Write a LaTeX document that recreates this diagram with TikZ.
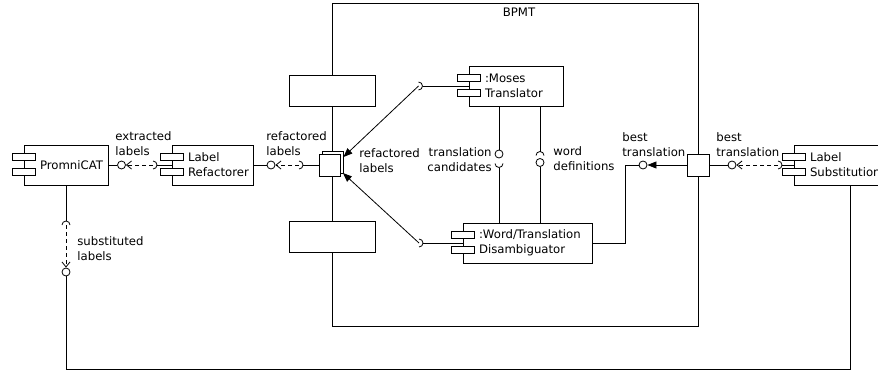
\documentclass[tikz,border=0pt]{standalone}
\usepackage{fontspec}
\setmainfont{DejaVu Sans}
\usetikzlibrary{positioning}
\usetikzlibrary{calc}
\usetikzlibrary{arrows.meta}
\usetikzlibrary{shadows}

\tikzset{
    comp/.style={draw, fill=white, minimum height=40, inner xsep=16pt, text width=#1, align=left},
    ball/.style={draw, fill=white, circle, minimum size=8, inner sep=0pt},
    port/.style={draw, fill=white, minimum width=21, minimum height=22, inner sep=0pt},
    blank/.style={draw, fill=white, minimum width=86, minimum height=31, inner sep=0pt},
    lbl/.style={inner sep=0pt, align=left, anchor=west},
    dep/.style={dash pattern=on 4pt off 3pt, -{Straight Barb[length=5pt,width=8pt]}},
    dlg/.style={-{Triangle[length=9pt,width=7pt]}},
}

%component icons on the left side of a box
\newcommand{\compicons}[1]{\draw[fill=white] ([xshift=-11pt,yshift=11.5pt]#1.west) rectangle ++(23pt,-7pt) ([xshift=-11pt,yshift=-3.5pt]#1.west) rectangle ++(23pt,-7pt);}

\begin{document}
\begin{tikzpicture}[x=1pt, y=-1pt, line width=0.8pt, font=\fontsize{11.7}{15}\selectfont]
    \useasboundingbox (0,0) rectangle (878,372);
    %BPMT
    \node[draw, minimum width=366, minimum height=323] (bpmt) at (515,164.5) {};
    \node[anchor=north, inner sep=0pt] (bpmtname) at ([xshift=4pt,yshift=-5pt]bpmt.north) {BPMT};
    \node[blank] (blanka) at (332,90.5) {};
    \node[blank] (blankb) at (332,236.5) {};
    %ports
    \node[port, copy shadow={shadow xshift=3pt, shadow yshift=3pt}] (lport) at (330,165) {};
    \node[port, minimum width=22] (rport) at (698,165) {};
    %components
    \node[comp=52pt] (promni) at (66,165) {PromniCAT};
    \node[comp=49pt] (refac) at (212.5,165) {Label\\Refactorer};
    \node[comp=62pt] (moses) at (516,86) {:Moses\\Translator};
    \node[comp=97pt] (disamb) at (527.5,243) {:Word/Translation\\Disambiguator};
    \node[comp=80pt] (subst) at (850,165) {Label\\Substitution};
    \compicons{promni}
    \compicons{refac}
    \compicons{moses}
    \compicons{disamb}
    \compicons{subst}
    %balls and sockets
    \node[ball] (bextr) at (121.5,165) {};
    \coordinate (sextr) at (153,165);
    \node[ball] (brefl) at (271,165) {};
    \coordinate (srefl) at (299,165);
    \coordinate (smoses) at (418.5,86);
    \coordinate (sdisamb) at (419,243);
    \node[ball] (btcand) at (499,154) {};
    \coordinate (stcand) at (499,163.5);
    \coordinate (sword) at (540,155.5);
    \node[ball] (bword) at (540,162.5) {};
    \node[ball] (bbest) at (643,165) {};
    \node[ball] (bbestout) at (732,165) {};
    \coordinate (sbestout) at (778,165);
    \coordinate (ssubst) at (66,225);
    \node[ball] (bsubst) at (66,272) {};

    %PromniCAT - Refactorer
    \draw (promni) -- (bextr);
    \draw[dep] (sextr) -- (bextr);
    \draw ([yshift=4pt]sextr) arc (90:-90:4pt);
    \draw ([xshift=4pt]sextr) -- (refac.west);
    \node[lbl] (extrlbl) at (115,144) {extracted\\labels};
    %Refactorer - BPMT
    \draw (refac) -- (brefl);
    \draw[dep] (srefl) -- (brefl);
    \draw ([yshift=4pt]srefl) arc (90:-90:4pt);
    \draw ([xshift=4pt]srefl) -- (lport);
    \node[lbl] (refllbl) at (266,144) {refactored\\labels};
    %port - Moses
    \draw ([xshift=4pt]smoses) -- (moses.west);
    \draw ([yshift=4pt]smoses) arc (90:-90:4pt);
    \draw[dlg] (smoses) -- ([xshift=2.5pt,yshift=8pt]lport.east);
    %port - Disambiguator
    \draw ([xshift=4pt]sdisamb) -- (disamb.west);
    \draw ([yshift=4pt]sdisamb) arc (90:-90:4pt);
    \draw[dlg] (sdisamb) -- ([xshift=2pt,yshift=-8pt]lport.east);
    \node[lbl] (reflin) at (359,161) {refactored\\labels};
    %Moses - Disambiguator
    \draw (moses.south -| btcand) -- (btcand);
    \draw ([xshift=-4pt]stcand) arc (180:360:4pt);
    \draw ([yshift=-4pt]stcand) -- (disamb.north -| stcand);
    \node[lbl, anchor=east, align=right] (tcandlbl) at (492,159.5) {translation\\candidates};
    \draw (moses.south -| sword) -- ([yshift=4pt]sword);
    \draw ([xshift=-4pt]sword) arc (180:0:4pt);
    \draw (bword) -- (disamb.north -| bword);
    \node[lbl] (wordlbl) at (553,158.5) {word\\definitions};
    %Disambiguator - port
    \draw (disamb.east) -- ++(33,0) |- (bbest);
    \draw[dlg] (rport) -- (bbest);
    \node[lbl] (bestlbl) at (622,145) {best\\translation};
    %port - Substitution
    \draw (rport) -- (bbestout);
    \draw[dep] (sbestout) -- (bbestout);
    \draw ([yshift=4pt]sbestout) arc (90:-90:4pt);
    \draw ([xshift=4pt]sbestout) -- (subst.west);
    \node[lbl] (bestoutlbl) at (716,145) {best\\translation};
    %PromniCAT - Substitution
    \draw (promni.south) -- ([yshift=4pt]ssubst);
    \draw ([xshift=-4pt]ssubst) arc (180:0:4pt);
    \draw[dep] (ssubst) -- (bsubst);
    \draw (bsubst) -- ++(0,97) -| (subst.south);
    \node[lbl] (substlbl) at (77,248.5) {substituted\\labels};
\end{tikzpicture}
\end{document}
